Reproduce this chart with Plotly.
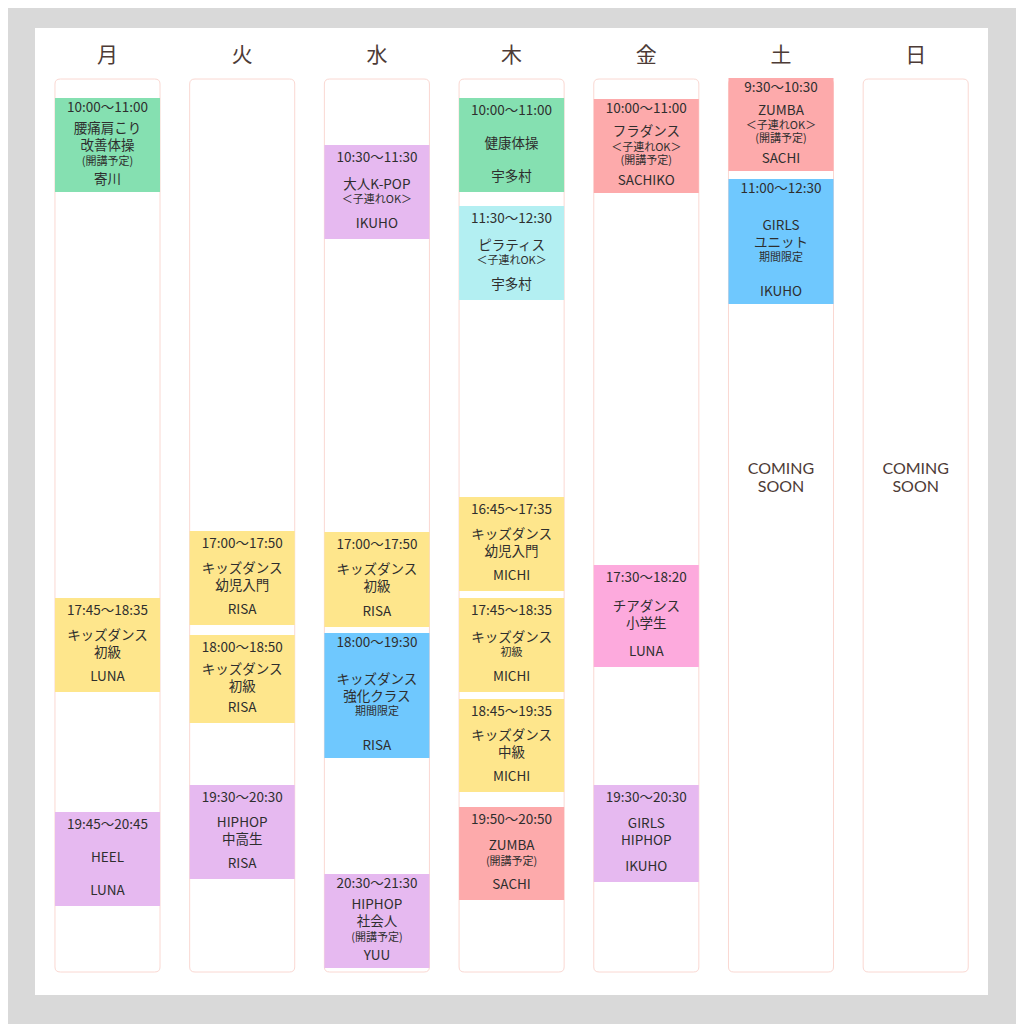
import plotly.graph_objects as go

# weekday headers
days = ["月", "火", "水", "木", "金", "土", "日"]

# class blocks (day index, top / bottom on the board's vertical scale)
block_day = [0, 0, 0, 1, 1, 1, 2, 2, 2, 2, 3, 3, 3, 3, 3, 3, 4, 4, 4, 5, 5]
block_top = [98, 598, 812, 531, 635, 785, 145, 532, 633, 874,
             98, 206, 497, 598, 699, 807, 99, 565, 785, 78, 179]
block_bottom = [192, 692, 906, 625, 723, 879, 239, 627, 758, 968,
                192, 300, 591, 692, 792, 900, 193, 667, 882, 171, 304]
block_time = ["10:00～11:00", "17:45～18:35", "19:45～20:45",
              "17:00～17:50", "18:00～18:50", "19:30～20:30",
              "10:30～11:30", "17:00～17:50", "18:00～19:30", "20:30～21:30",
              "10:00～11:00", "11:30～12:30", "16:45～17:35", "17:45～18:35",
              "18:45～19:35", "19:50～20:50",
              "10:00～11:00", "17:30～18:20", "19:30～20:30",
              "9:30～10:30", "11:00～12:30"]
block_title = ["腰痛肩こり|改善体操", "キッズダンス|初級", "HEEL",
               "キッズダンス|幼児入門", "キッズダンス|初級", "HIPHOP|中高生",
               "大人K-POP", "キッズダンス|初級", "キッズダンス|強化クラス", "HIPHOP|社会人",
               "健康体操", "ピラティス", "キッズダンス|幼児入門", "キッズダンス",
               "キッズダンス|中級", "ZUMBA",
               "フラダンス", "チアダンス|小学生", "GIRLS|HIPHOP",
               "ZUMBA", "GIRLS|ユニット"]
block_note = ["(開講予定)", "", "",
              "", "", "",
              "＜子連れOK＞", "", "期間限定", "(開講予定)",
              "", "＜子連れOK＞", "", "初級",
              "", "(開講予定)",
              "＜子連れOK＞|(開講予定)", "", "",
              "＜子連れOK＞|(開講予定)", "期間限定"]
block_teacher = ["寄川", "LUNA", "LUNA",
                 "RISA", "RISA", "RISA",
                 "IKUHO", "RISA", "RISA", "YUU",
                 "宇多村", "宇多村", "MICHI", "MICHI", "MICHI", "SACHI",
                 "SACHIKO", "LUNA", "IKUHO",
                 "SACHI", "IKUHO"]
block_kind = ["fitness", "kids", "hiphop",
              "kids", "kids", "hiphop",
              "hiphop", "kids", "special", "hiphop",
              "fitness", "pilates", "kids", "kids", "kids", "zumba",
              "zumba", "cheer", "hiphop",
              "zumba", "special"]

coming_soon_days = [5, 6]

kind_colors = {
    "fitness": "#85e0b1",
    "kids": "#fee68c",
    "hiphop": "#e6b9f0",
    "special": "#6fc8fe",
    "pilates": "#b3eff2",
    "zumba": "#fdaaab",
    "cheer": "#fdaadd",
}

# the page body adds an 8px margin, so the figure is drawn 8px smaller
OFFSET = 8
SIZE = 1024 - OFFSET
BOARD_TOP, BOARD_BOTTOM = 79, 972
COL_W = 0.78
STEP = 134.7          # pixels between day columns
FIRST = 107.5         # centre of the Monday column
TEXT = "#2e2e2e"
BROWN = "#4d3b36"
FONT = "Noto Sans CJK JP"

fig = go.Figure()

# class blocks
fig.add_trace(go.Bar(
    x=block_day,
    base=block_top,
    y=[b - t for t, b in zip(block_top, block_bottom)],
    width=COL_W,
    marker=dict(color=[kind_colors[k] for k in block_kind], line=dict(width=0)),
    hoverinfo="skip",
))

# text inside blocks
time_x, time_y, name_x, name_y = [], [], [], []
title_x, title_y, title_t = [], [], []
note_x, note_y, note_t = [], [], []
for d, t, b, title, note in zip(block_day, block_top, block_bottom, block_title, block_note):
    lines = [(s, "title", 17) for s in title.split("|")]
    if note:
        lines += [(s, "note", 13) for s in note.split("|")]
    pad = 11 if len(lines) >= 3 else 14
    time_x.append(d)
    time_y.append(t + pad)
    name_x.append(d)
    name_y.append(b - pad)
    total = sum(h for _, _, h in lines)
    pos = (t + b) / 2 - total / 2
    for s, kind, h in lines:
        yc = pos + h / 2
        pos += h
        if kind == "title":
            title_x.append(d)
            title_y.append(yc)
            title_t.append(s)
        else:
            note_x.append(d)
            note_y.append(yc)
            note_t.append(s)

fig.add_trace(go.Scatter(x=time_x, y=time_y, text=block_time, mode="text",
                         textfont=dict(family=FONT, size=13.5, color=TEXT), hoverinfo="skip"))
fig.add_trace(go.Scatter(x=title_x, y=title_y, text=title_t, mode="text",
                         textfont=dict(family=FONT, size=13.5, color=TEXT), hoverinfo="skip"))
fig.add_trace(go.Scatter(x=note_x, y=note_y, text=note_t, mode="text",
                         textfont=dict(family=FONT, size=11, color=TEXT), hoverinfo="skip"))
fig.add_trace(go.Scatter(x=name_x, y=name_y, text=block_teacher, mode="text",
                         textfont=dict(family=FONT, size=13.5, color=TEXT), hoverinfo="skip"))

# weekday headers
fig.add_trace(go.Scatter(x=list(range(len(days))), y=[57] * len(days), text=days, mode="text",
                         textfont=dict(family=FONT, size=21, color=BROWN), hoverinfo="skip"))

# coming soon
for word, yy in [("COMING", 470), ("SOON", 487.5)]:
    fig.add_trace(go.Scatter(x=coming_soon_days, y=[yy] * len(coming_soon_days),
                             text=[word] * len(coming_soon_days), mode="text",
                             textfont=dict(family="Lato", size=16, color=BROWN),
                             hoverinfo="skip"))

# white board and rounded day columns
shapes = [dict(type="rect", xref="paper", yref="y",
               x0=(35 - OFFSET) / SIZE, x1=(988 - OFFSET) / SIZE,
               y0=28, y1=995, fillcolor="white", line=dict(width=0), layer="below")]
rx, ry = 0.04, 5
for i in range(len(days)):
    l, r = i - COL_W / 2, i + COL_W / 2
    t, b = BOARD_TOP, BOARD_BOTTOM
    path = (f"M {l + rx},{t} L {r - rx},{t} Q {r},{t} {r},{t + ry} "
            f"L {r},{b - ry} Q {r},{b} {r - rx},{b} L {l + rx},{b} "
            f"Q {l},{b} {l},{b - ry} L {l},{t + ry} Q {l},{t} {l + rx},{t} Z")
    shapes.append(dict(type="path", path=path, xref="x", yref="y", fillcolor="white",
                       line=dict(color="#fad8d2", width=1), layer="below"))

x0 = -(FIRST - OFFSET) / STEP
fig.update_layout(
    width=SIZE,
    height=SIZE,
    margin=dict(l=0, r=0, t=0, b=0),
    paper_bgcolor="#d9d9d9",
    plot_bgcolor="rgba(0,0,0,0)",
    showlegend=False,
    shapes=shapes,
    barmode="overlay",
    xaxis=dict(range=[x0, x0 + SIZE / STEP], visible=False, fixedrange=True),
    yaxis=dict(range=[1024, OFFSET], visible=False, fixedrange=True),
)

fig.write_html("out.html")
